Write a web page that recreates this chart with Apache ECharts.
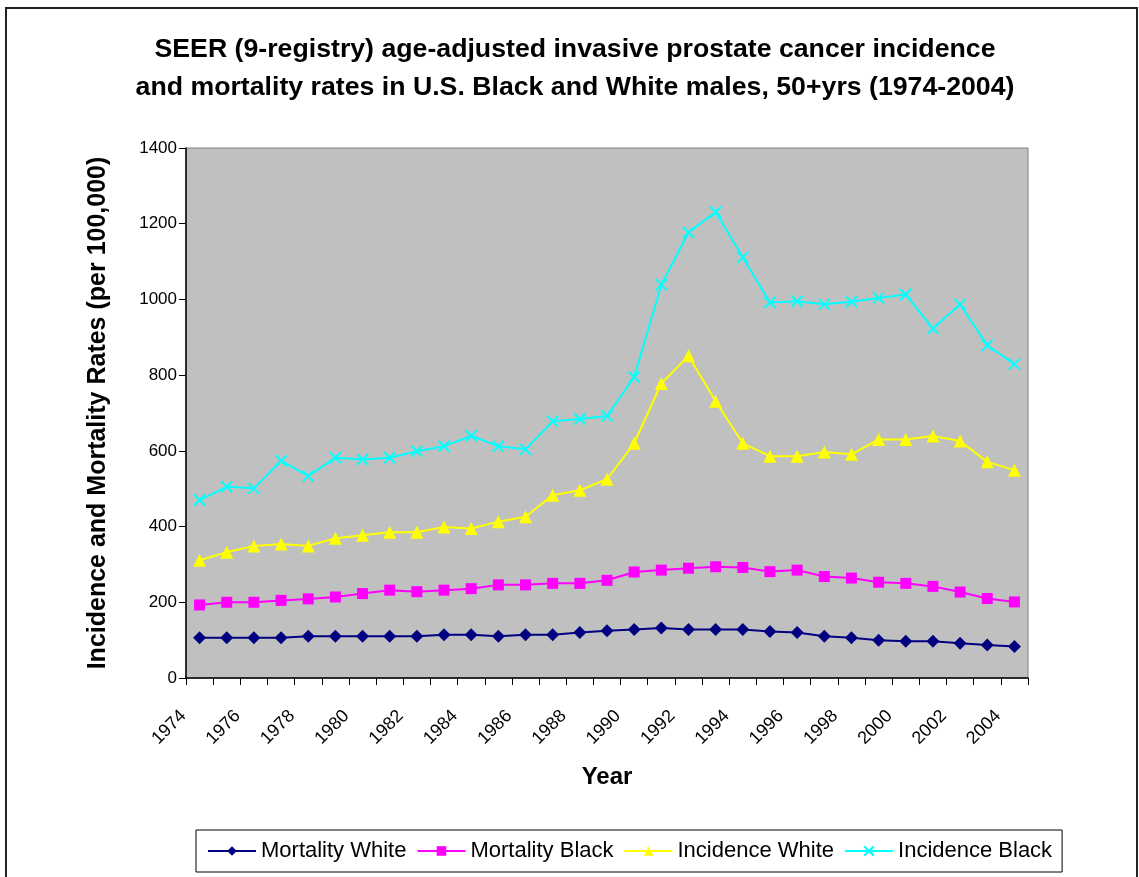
<!DOCTYPE html>
<html>
<head>
<meta charset="utf-8">
<script src="https://cdn.jsdelivr.net/npm/echarts@6/dist/echarts.min.js"></script>
<style>
html,body{margin:0;padding:0;background:#fff;}
#chart{width:1139px;height:877px;}
</style>
</head>
<body>
<div id="chart"></div>
<script>
const years = ['1974','1975','1976','1977','1978','1979','1980','1981','1982','1983','1984','1985','1986','1987','1988','1989','1990','1991','1992','1993','1994','1995','1996','1997','1998','1999','2000','2001','2002','2003','2004'];
const mortalityWhite = [106,106,106,106,110,110,110,110,110,114,114,110,114,114,120,125,128,132,128,128,128,123,120,110,106,100,97,97,92,87,83];
const mortalityBlack = [193,200,200,205,209,214,223,232,228,232,236,246,246,250,250,258,280,285,290,294,292,281,285,268,264,253,250,242,227,210,201];
const incidenceWhite = [311,332,349,354,349,369,377,385,385,399,395,413,426,483,496,525,620,778,851,731,620,586,586,597,591,630,630,639,626,571,549];
const incidenceBlack = [470,505,501,574,533,582,577,582,599,612,640,612,604,678,684,692,795,1039,1177,1231,1111,992,995,987,994,1004,1013,923,987,879,829];
const yTicks = {min: 0, max: 1400, interval: 200};

const FONT = '"Liberation Sans", Arial, sans-serif';
const chart = echarts.init(document.getElementById('chart'));

function lineSeries(name, data, color, symbol, size, extra) {
  return Object.assign({
    name: name,
    type: 'line',
    data: data,
    symbol: symbol,
    symbolSize: size,
    showAllSymbol: true,
    lineStyle: {color: color, width: 2},
    itemStyle: {color: color, borderColor: color, borderWidth: 0},
    emphasis: {disabled: true},
    animation: false
  }, extra || {});
}

chart.setOption({
  animation: false,
  backgroundColor: '#ffffff',
  title: {
    text: 'SEER (9-registry) age-adjusted invasive prostate cancer incidence\nand mortality rates in U.S. Black and White males, 50+yrs (1974-2004)',
    left: 570,
    textAlign: 'center',
    top: 26,
    textStyle: {fontFamily: FONT, fontSize: 26.7, fontWeight: 'bold', color: '#000', lineHeight: 38}
  },
  grid: {
    left: 186, right: 111, top: 148, bottom: 199,
    show: true, backgroundColor: '#C0C0C0', borderColor: '#808080', borderWidth: 1
  },
  xAxis: {
    type: 'category',
    data: years,
    boundaryGap: true,
    name: 'Year',
    nameLocation: 'middle',
    nameGap: 87,
    nameTextStyle: {fontFamily: FONT, fontSize: 24, fontWeight: 'bold', color: '#000'},
    axisLine: {lineStyle: {color: '#000', width: 1.5}},
    axisTick: {show: true, interval: 0, length: 7, inside: false, lineStyle: {color: '#000'}},
    axisLabel: {interval: 1, rotate: 45, margin: 19, padding: [0, 23, 0, 0], fontFamily: FONT, fontSize: 18, color: '#000'},
    splitLine: {show: false}
  },
  yAxis: {
    type: 'value',
    min: yTicks.min, max: yTicks.max, interval: yTicks.interval,
    name: 'Incidence and Mortality Rates (per 100,000)',
    nameLocation: 'middle',
    nameRotate: 90,
    nameGap: 75,
    nameTextStyle: {fontFamily: FONT, fontSize: 25, fontWeight: 'bold', color: '#000'},
    axisLine: {show: true, lineStyle: {color: '#000', width: 1.5}},
    axisTick: {show: true, length: 7, lineStyle: {color: '#000'}},
    axisLabel: {margin: 9, fontFamily: FONT, fontSize: 17, color: '#000', formatter: function (v) { return String(v); }},
    splitLine: {show: false}
  },
  legend: {
    left: 196, top: 830,
    padding: [10, 10, 10, 11],
    itemGap: 10,
    itemWidth: 48, itemHeight: 12,
    borderColor: '#000', borderWidth: 1,
    backgroundColor: '#fff',
    textStyle: {fontFamily: FONT, fontSize: 22, color: '#000'},
    data: ['Mortality White','Mortality Black','Incidence White','Incidence Black']
  },
  graphic: [{
    type: 'rect', silent: true, z: -1,
    shape: {x: 6, y: 8, width: 1131, height: 900},
    style: {fill: 'none', stroke: '#222', lineWidth: 2}
  }],
  series: [
    lineSeries('Mortality White', mortalityWhite, '#000080', 'diamond', 13),
    lineSeries('Mortality Black', mortalityBlack, '#FF00FF', 'rect', 11),
    lineSeries('Incidence White', incidenceWhite, '#FFFF00', 'triangle', 13),
    lineSeries('Incidence Black', incidenceBlack, '#00FFFF', 'path://M0,0L10,10M10,0L0,10', 11,
      {itemStyle: {color: '#00FFFF', borderColor: '#00FFFF', borderWidth: 2}})
  ]
});
</script>
</body>
</html>
